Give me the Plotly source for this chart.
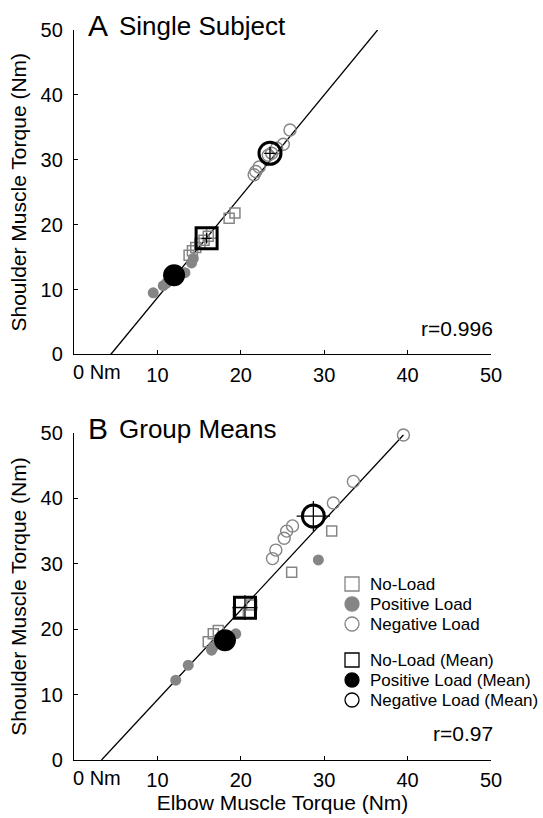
import plotly.graph_objects as go

# ---------------- Panel A: Single Subject ----------------
a_noload_x = [19.3, 18.6, 16.5, 16.1, 15.6, 15.1, 14.6, 14.2, 13.8]
a_noload_y = [21.8, 21.0, 18.7, 18.2, 17.6, 17.1, 16.5, 16.0, 15.3]
a_pos_x = [14.3, 14.1, 13.3, 12.7, 11.1, 10.7, 9.5]
a_pos_y = [14.8, 14.1, 12.6, 12.4, 11.0, 10.6, 9.5]
a_neg_x = [25.9, 25.1, 24.3, 23.7, 23.3, 22.2, 21.8, 21.6]
a_neg_y = [34.6, 32.4, 31.8, 31.0, 30.7, 28.9, 28.2, 27.7]
a_mean_x = [15.9, 12.0, 23.5]      # no-load, positive, negative
a_mean_y = [17.9, 12.2, 31.0]
a_mean_ex = [0.6, 0.6, 0.7]
a_mean_ey = [0.8, 0.8, 1.0]
a_fit_x = [4.4, 36.4]
a_fit_y = [0, 50]
a_r = "r=0.996"

# ---------------- Panel B: Group Means ----------------
b_noload_x = [30.9, 26.1, 21.3, 19.7, 17.3, 16.7, 16.1]
b_noload_y = [35.0, 28.7, 23.7, 22.6, 19.8, 19.3, 18.1]
b_pos_x = [29.3, 19.4, 16.7, 16.5, 13.7, 12.2]
b_pos_y = [30.6, 19.3, 17.3, 16.8, 14.5, 12.2]
b_neg_x = [39.5, 33.5, 31.1, 26.2, 25.5, 25.2, 24.2, 23.8]
b_neg_y = [49.7, 42.6, 39.3, 35.8, 35.0, 33.9, 32.1, 30.8]
b_mean_x = [20.5, 18.1, 28.7]
b_mean_y = [23.3, 18.3, 37.3]
b_mean_ex = [1.5, 0.9, 2.0]
b_mean_ey = [1.9, 1.0, 2.3]
b_fit_x = [3.3, 39.5]
b_fit_y = [0, 49.7]
b_r = "r=0.97"

tick_vals = [0, 10, 20, 30, 40, 50]
x_tick_text = ["", "10", "20", "30", "40", "50"]
legend_names = ["No-Load", "Positive Load", "Negative Load",
                "No-Load (Mean)", "Positive Load (Mean)", "Negative Load (Mean)"]

GRAY = "#858585"
FONT = "Liberation Sans, Arial, sans-serif"

W, H = 543, 818
ML, MR, MT, MB = 74, 52, 30, 58
PW, PH = W - ML - MR, H - MT - MB

fig = go.Figure()


def add_panel(xa, ya, nlx, nly, px, py, nx, ny, mx, my, ex, ey, fx, fy):
    fig.add_trace(go.Scatter(x=fx, y=fy, mode="lines", xaxis=xa, yaxis=ya,
                             line=dict(color="black", width=1.3), showlegend=False,
                             hoverinfo="skip", cliponaxis=False))
    fig.add_trace(go.Scatter(x=nlx, y=nly, mode="markers", xaxis=xa, yaxis=ya,
                             marker=dict(symbol="square-open", size=10, color=GRAY,
                                         line=dict(width=1.5, color=GRAY)),
                             showlegend=False, cliponaxis=False))
    fig.add_trace(go.Scatter(x=px, y=py, mode="markers", xaxis=xa, yaxis=ya,
                             marker=dict(symbol="circle", size=11, color=GRAY,
                                         line=dict(width=0)),
                             showlegend=False, cliponaxis=False))
    fig.add_trace(go.Scatter(x=nx, y=ny, mode="markers", xaxis=xa, yaxis=ya,
                             marker=dict(symbol="circle-open", size=12, color=GRAY,
                                         line=dict(width=1.4, color=GRAY)),
                             showlegend=False, cliponaxis=False))
    syms = ["square-open", "circle", "circle-open"]
    sizes = [21, 22, 22]
    for i in range(3):
        fig.add_trace(go.Scatter(
            x=[mx[i]], y=[my[i]], mode="markers", xaxis=xa, yaxis=ya,
            marker=dict(symbol=syms[i], size=sizes[i], color="black",
                        line=dict(width=3 if i != 1 else 0, color="black")),
            error_x=dict(type="data", array=[ex[i]], color="black", thickness=1.3, width=0),
            error_y=dict(type="data", array=[ey[i]], color="black", thickness=1.3, width=0),
            showlegend=False, cliponaxis=False))


add_panel("x", "y", a_noload_x, a_noload_y, a_pos_x, a_pos_y, a_neg_x, a_neg_y,
          a_mean_x, a_mean_y, a_mean_ex, a_mean_ey, a_fit_x, a_fit_y)
add_panel("x2", "y2", b_noload_x, b_noload_y, b_pos_x, b_pos_y, b_neg_x, b_neg_y,
          b_mean_x, b_mean_y, b_mean_ex, b_mean_ey, b_fit_x, b_fit_y)

axis_common = dict(range=[0, 50], tickvals=tick_vals, ticks="inside", ticklen=4,
                   tickwidth=1.2, tickcolor="black", showline=True, linecolor="black",
                   linewidth=1.3, showgrid=False, zeroline=False, automargin=False,
                   tickfont=dict(size=20, color="black", family=FONT))

fig.update_layout(
    width=W, height=H,
    margin=dict(l=ML, r=MR, t=MT, b=MB),
    plot_bgcolor="white", paper_bgcolor="white",
    font=dict(family=FONT, color="black"),
    showlegend=False,
    xaxis=dict(axis_common, domain=[0, 1], anchor="y", ticktext=x_tick_text,
               ticklabelstandoff=2),
    yaxis=dict(axis_common, domain=[0.5555, 1], anchor="x", ticklabelstandoff=6,
               title=dict(text="Shoulder Muscle Torque (Nm)", font=dict(size=21),
                          standoff=8)),
    xaxis2=dict(axis_common, domain=[0, 1], anchor="y2", ticktext=x_tick_text,
                ticklabelstandoff=2,
                title=dict(text="Elbow Muscle Torque (Nm)", font=dict(size=21),
                           standoff=0)),
    yaxis2=dict(axis_common, domain=[0, 0.4479], anchor="x2", ticklabelstandoff=6,
                title=dict(text="Shoulder Muscle Torque (Nm)", font=dict(size=21),
                           standoff=8)),
)

for xa, ya, letter, title, rtxt in [("x", "y", "A", "Single Subject", a_r),
                                     ("x2", "y2", "B", "Group Means", b_r)]:
    fig.add_annotation(text=letter, x=0, y=50, xref=xa, yref=ya, xanchor="left",
                       yanchor="middle", xshift=12, yshift=5, showarrow=False,
                       font=dict(size=30, color="black", family=FONT))
    fig.add_annotation(text=title, x=0, y=50, xref=xa, yref=ya, xanchor="left",
                       yanchor="middle", xshift=43, yshift=4, showarrow=False,
                       font=dict(size=26, color="black", family=FONT))
    fig.add_annotation(text=rtxt, x=50, y=4, xref=xa, yref=ya, xanchor="right",
                       yanchor="middle", xshift=4, showarrow=False,
                       font=dict(size=21, color="black", family=FONT))
    fig.add_annotation(text="0 Nm", x=0, y=0, xref=xa, yref=ya, xanchor="left",
                       yanchor="middle", xshift=-3, yshift=-18, showarrow=False,
                       font=dict(size=20, color="black", family=FONT))

# ---------------- legend (drawn manually) ----------------
leg_rows_px = [584, 604, 624, 660, 680, 700]
leg_sym_px = 352
leg_text_px = 368
leg_kind = ["rect", "circle", "circle", "rect", "circle", "circle"]
leg_fill = [None, GRAY, None, None, "black", None]
leg_line = [GRAY, GRAY, GRAY, "black", "black", "black"]


def px2paper_x(px):
    return (px - ML) / PW


def px2paper_y(py):
    return (H - MB - py) / PH


for i, name in enumerate(legend_names):
    yp = px2paper_y(leg_rows_px[i])
    fig.add_shape(type=leg_kind[i], xref="paper", yref="paper",
                  xsizemode="pixel", ysizemode="pixel",
                  xanchor=px2paper_x(leg_sym_px), yanchor=yp,
                  x0=-7, x1=7, y0=-7, y1=7,
                  line=dict(color=leg_line[i], width=1.3),
                  fillcolor=leg_fill[i] if leg_fill[i] else "rgba(0,0,0,0)")
    fig.add_annotation(text=name, xref="paper", yref="paper",
                       x=px2paper_x(leg_text_px), y=yp, xanchor="left", yanchor="middle",
                       showarrow=False, font=dict(size=17, color="black", family=FONT))

fig.write_html("out.html")
